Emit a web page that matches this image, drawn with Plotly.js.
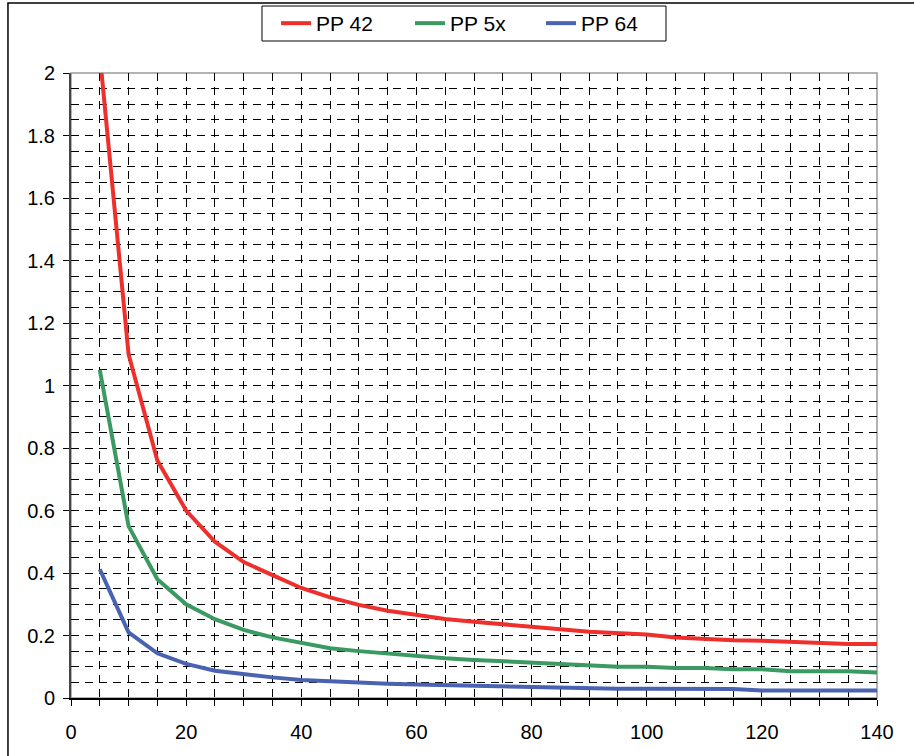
<!DOCTYPE html>
<html>
<head>
<meta charset="utf-8">
<script src="https://cdn.plot.ly/plotly-3.0.1.min.js"></script>
<style>
html,body{margin:0;padding:0;background:#fff;}
#chart{width:914px;height:756px;}
</style>
</head>
<body>
<div id="chart"></div>
<script>
const xValues = [5,10,15,20,25,30,35,40,45,50,55,60,65,70,75,80,85,90,95,100,105,110,115,120,125,130,135,140];
const pp42 = [2.06,1.10,0.76,0.60,0.50,0.435,0.393,0.352,0.322,0.298,0.279,0.266,0.253,0.244,0.237,0.228,0.220,0.212,0.207,0.203,0.194,0.189,0.185,0.183,0.179,0.176,0.173,0.173];
const pp5x = [1.05,0.55,0.38,0.30,0.252,0.218,0.194,0.175,0.159,0.150,0.142,0.132,0.127,0.122,0.118,0.114,0.110,0.105,0.100,0.100,0.096,0.096,0.092,0.092,0.086,0.086,0.086,0.082];
const pp64 = [0.412,0.21,0.143,0.109,0.087,0.075,0.066,0.058,0.053,0.049,0.046,0.043,0.041,0.038,0.037,0.034,0.034,0.032,0.030,0.030,0.029,0.029,0.029,0.024,0.024,0.024,0.024,0.024];
const seriesNames = ["PP 42","PP 5x","PP 64"];
const seriesColors = ["#ee302c","#3a9a62","#4a62b2"];
const legendIds = ["legend","legend2","legend3"];
const legendX = [0.2544, 0.4206, 0.5831];

const font = {family:"Liberation Sans, Arial, sans-serif", size:20, color:"#000"};
const legFont = {family:"Liberation Sans, Arial, sans-serif", size:21, color:"#000"};
const traces = [pp42, pp5x, pp64].map((y,i)=>({
  x:xValues, y:y, type:"scatter", mode:"lines", name:seriesNames[i], legend:legendIds[i],
  line:{color:seriesColors[i], width:4}, cliponaxis:true
}));

function legendCfg(i){
  return {orientation:"h", x:legendX[i], y:1.0792, xanchor:"left", yanchor:"middle",
    borderwidth:0, bgcolor:"rgba(0,0,0,0)", font:legFont, itemwidth:30};
}

const layout = {
  width:914, height:756,
  margin:{l:71, r:37, t:73, b:58, autoexpand:false},
  paper_bgcolor:"#fff", plot_bgcolor:"#fff",
  font:font,
  showlegend:true,
  legend:legendCfg(0), legend2:legendCfg(1), legend3:legendCfg(2),
  xaxis:{range:[0,140], dtick:20, tick0:0, showgrid:true, gridcolor:"#000", griddash:"8px,6px", gridwidth:1,
    ticks:"outside", ticklen:6, tickcolor:"#000", showline:true, linecolor:"#000", linewidth:1.5,
    zeroline:false, tickfont:font, ticklabelstandoff:9,
    minor:{dtick:5, tick0:0, showgrid:true, gridcolor:"#000", griddash:"8px,6px", gridwidth:1, ticks:"outside", ticklen:6, tickcolor:"#000"}},
  yaxis:{range:[0,2], dtick:0.2, tick0:0, showgrid:true, gridcolor:"#000", griddash:"8px,6px", gridwidth:1,
    ticks:"outside", ticklen:6, tickcolor:"#000", showline:true, linecolor:"#444", linewidth:2,
    zeroline:false, tickfont:font, ticklabelstandoff:4,
    minor:{dtick:0.05, tick0:0, showgrid:true, gridcolor:"#000", griddash:"8px,6px", gridwidth:1}},
  shapes:[
    {type:"rect", xref:"paper", yref:"paper", x0:0, x1:1, y0:0, y1:1, line:{color:"#999", width:1.5}, layer:"below"},
    {type:"rect", xref:"paper", yref:"paper", x0:0.23697, x1:0.7382, y0:1.0512, y1:1.1072, line:{color:"#000", width:1}, fillcolor:"rgba(0,0,0,0)", layer:"above"},
    {type:"path", xref:"paper", yref:"paper", path:"M -0.0782,-0.2 L -0.0782,1.1120 L 1.2,1.1120", line:{color:"#000", width:1.5}, layer:"above"}
  ]
};
Plotly.newPlot("chart", traces, layout, {staticPlot:true});
</script>
</body>
</html>
